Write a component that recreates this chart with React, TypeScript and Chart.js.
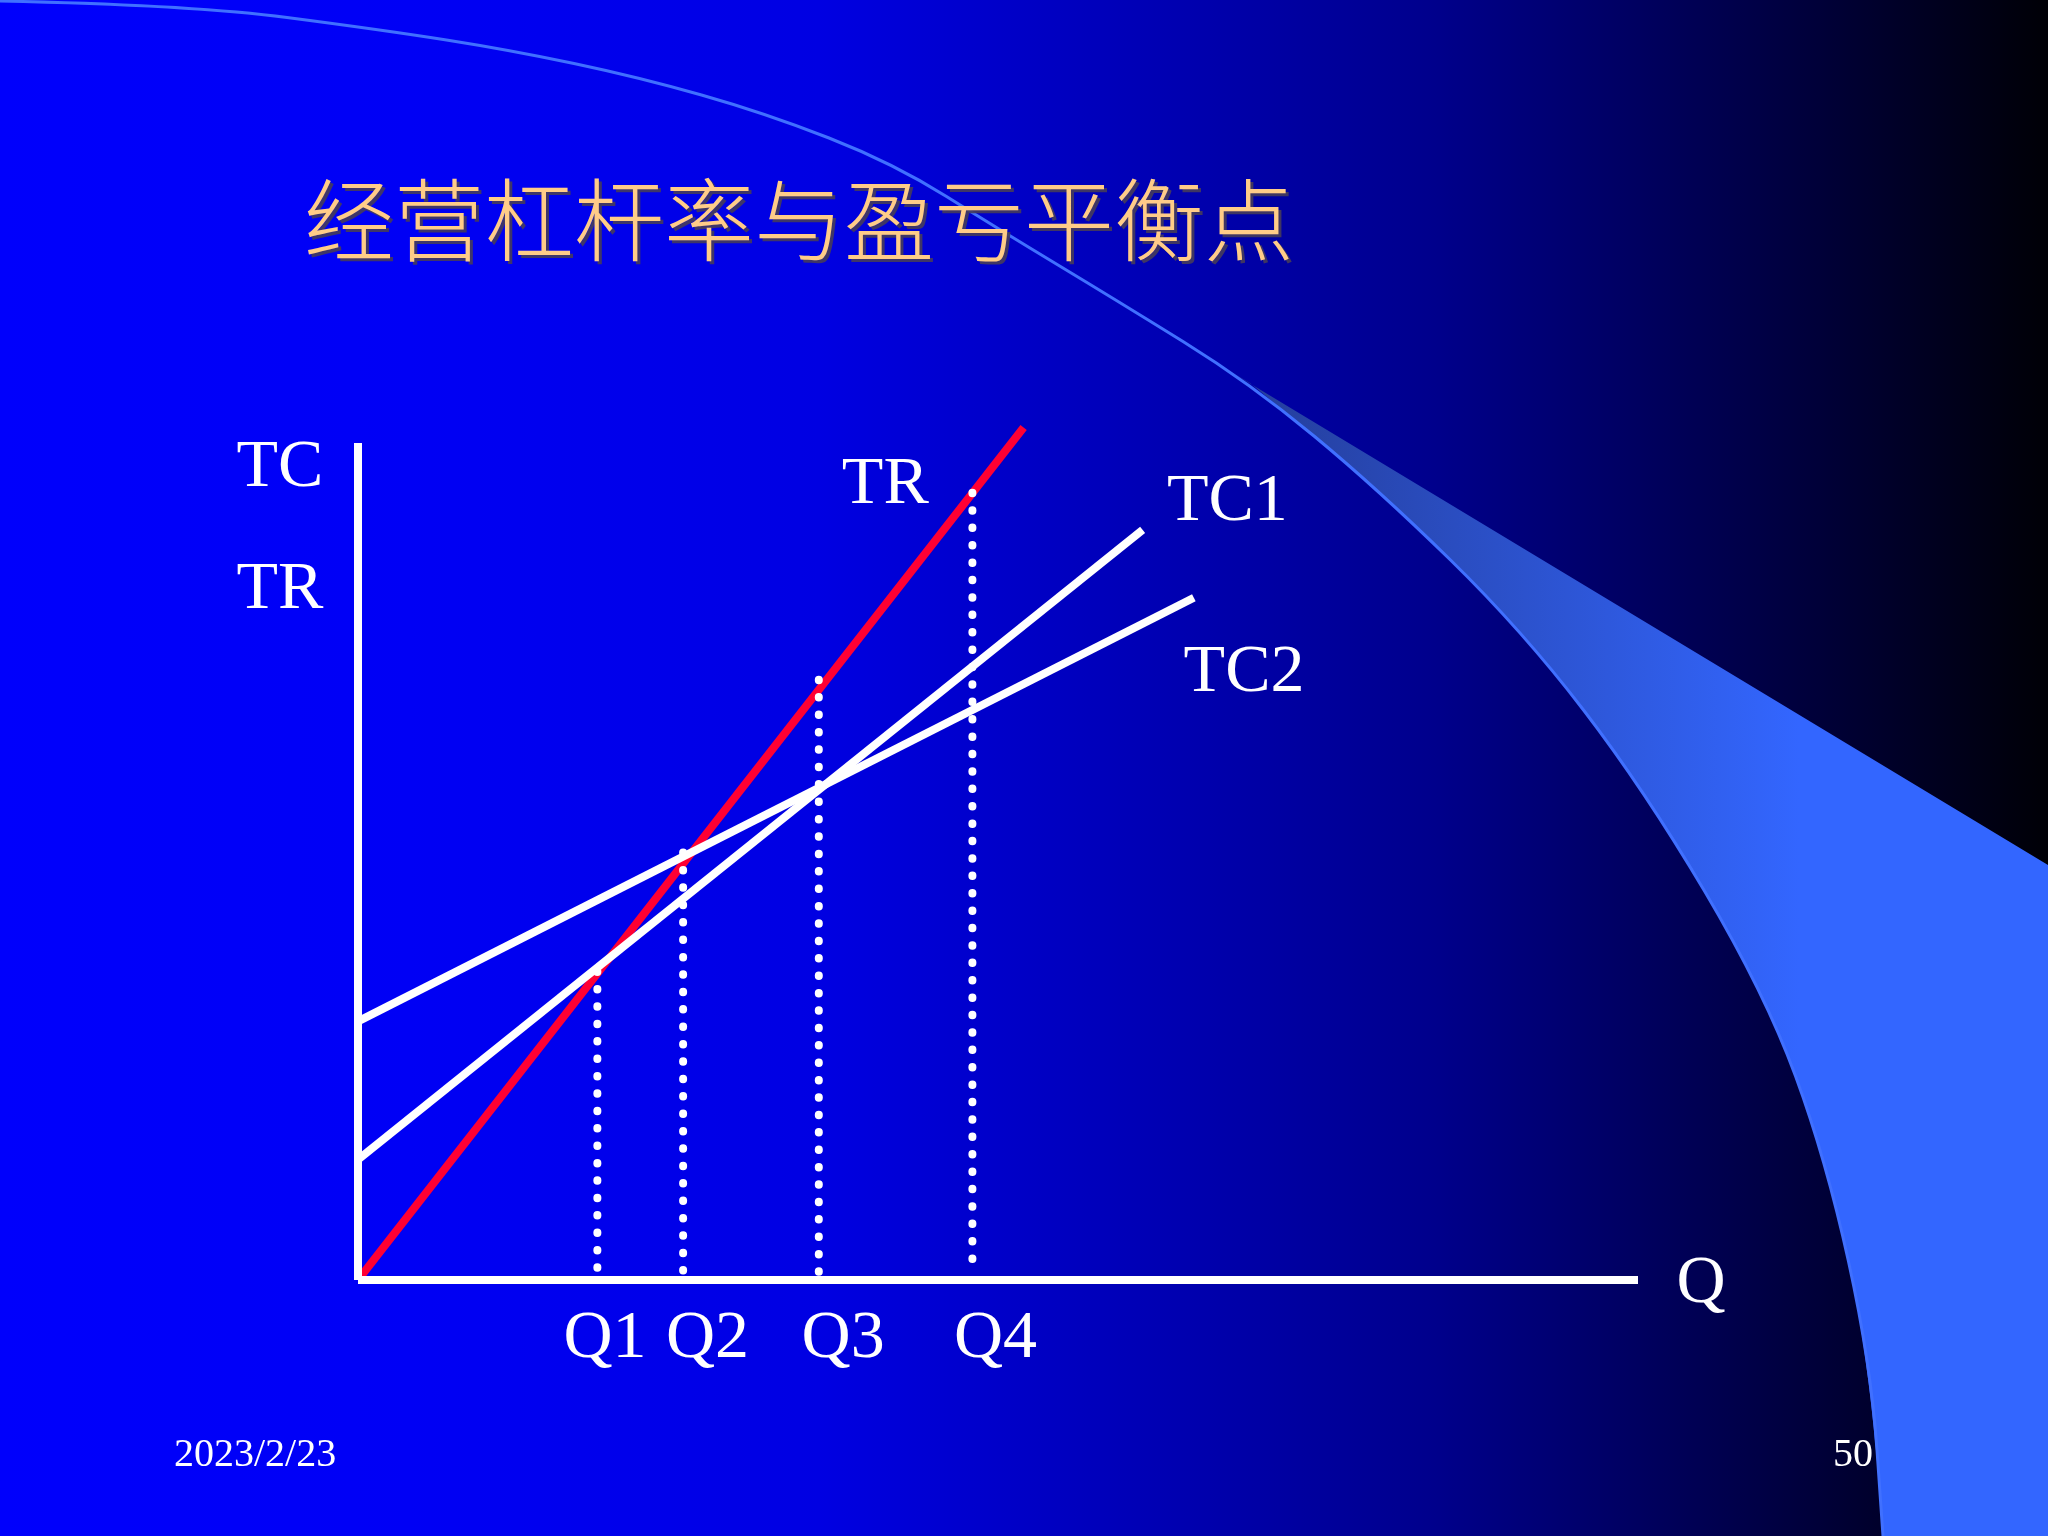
import React, { useEffect, useRef } from "react";
import { Chart, registerables } from "chart.js";

Chart.register(...registerables);

// ---- data (chart units) ----
const titleText = "经营杠杆率与盈亏平衡点";
const footerDate = "2023/2/23";
const pageNumber = "50";

const trX = [0, 52.0];
const trY = [0, 66.6];
const tc1X = [0, 61.3];
const tc1Y = [9.4, 58.6];
const tc2X = [0, 65.3];
const tc2Y = [20.2, 53.3];

const axisXEnd = 100;
const axisYEnd = 65.4;

const quantityLabels = ["Q1", "Q2", "Q3", "Q4"];
const quantityValues = [18.7, 25.4, 36.0, 48.0];
const quantityTops = [24.1, 33.4, 46.9, 61.5];
const dottedBottom = 0.4;

// label anchors in chart units
const quantityLabelX = [19.3, 27.3, 37.9, 49.8];
const quantityLabelY = -6.0;
const curveLabels = ["TR", "TC1", "TC2"];
const curveLabelX = [37.8, 63.2, 64.5];
const curveLabelY = [60.7, 59.4, 46.0];
const axisLabels = ["TC", "TR", "Q"];
const axisLabelX = [-9.5, -9.5, 103.0];
const axisLabelY = [62.0, 52.5, -1.7];

const W = 2048;
const H = 1536;

const pts = (xs: number[], ys: number[]) => xs.map((x, i) => ({ x, y: ys[i] }));

const ARC: [number, number][] = [
  [0, 1], [191, 5], [383, 30], [510, 50], [638, 77], [765, 113],
  [893, 163], [1000, 230], [1116, 300], [1250, 383], [1378, 489], [1523, 631], [1644, 789],
  [1765, 993], [1826, 1159], [1871, 1364], [1883, 1536],
];

function smooth(ctx: CanvasRenderingContext2D, p: [number, number][], move: boolean) {
  if (move) ctx.moveTo(p[0][0], p[0][1]);
  else ctx.lineTo(p[0][0], p[0][1]);
  for (let i = 1; i < p.length - 1; i++) {
    const mx = (p[i][0] + p[i + 1][0]) / 2;
    const my = (p[i][1] + p[i + 1][1]) / 2;
    ctx.quadraticCurveTo(p[i][0], p[i][1], mx, my);
  }
  const l = p[p.length - 1];
  ctx.lineTo(l[0], l[1]);
}

const backgroundPlugin = {
  id: "slideBackground",
  beforeDraw(chart: any) {
    const ctx: CanvasRenderingContext2D = chart.ctx;
    ctx.save();
    const g = ctx.createLinearGradient(0, 0, W, 0);
    g.addColorStop(0, "rgb(0,0,252)");
    g.addColorStop(0.2, "rgb(0,0,245)");
    g.addColorStop(0.4, "rgb(0,0,226)");
    g.addColorStop(0.57, "rgb(0,0,178)");
    g.addColorStop(0.7, "rgb(0,0,140)");
    g.addColorStop(0.8, "rgb(0,0,96)");
    g.addColorStop(0.89, "rgb(0,0,56)");
    g.addColorStop(1, "rgb(0,0,6)");
    ctx.fillStyle = g;
    ctx.fillRect(0, 0, W, H);

    // light ribbon
    const lower = ARC.slice(9).slice().reverse() as [number, number][];
    ctx.beginPath();
    ctx.moveTo(1221, 366);
    ctx.lineTo(W, 865);
    ctx.lineTo(W, H);
    smooth(ctx, lower, false);
    ctx.lineTo(1221, 366);
    ctx.closePath();
    const rg = ctx.createLinearGradient(1221, 0, 1800, 0);
    rg.addColorStop(0, "rgb(36,60,150)");
    rg.addColorStop(1, "#3366FF");
    ctx.fillStyle = rg;
    ctx.fill();

    // thin arc line
    ctx.beginPath();
    smooth(ctx, ARC, true);
    ctx.strokeStyle = "#4070FF";
    ctx.lineWidth = 3;
    ctx.stroke();
    ctx.restore();
  },
};

const textPlugin = {
  id: "slideText",
  afterDraw(chart: any) {
    const ctx: CanvasRenderingContext2D = chart.ctx;
    const xs = chart.scales.x;
    const ys = chart.scales.y;
    ctx.save();
    // title
    ctx.font = '300 90px "Noto Sans CJK SC"';
    ctx.textBaseline = "middle";
    ctx.textAlign = "left";
    ctx.shadowColor = "rgba(70,60,90,0.9)";
    ctx.shadowOffsetX = 3;
    ctx.shadowOffsetY = 3;
    ctx.fillStyle = "#FFCC88";
    ctx.fillText(titleText, 304, 220);
    ctx.shadowColor = "transparent";
    ctx.shadowOffsetX = 0;
    ctx.shadowOffsetY = 0;

    ctx.fillStyle = "#FFFFFF";
    ctx.textBaseline = "alphabetic";
    ctx.font = '68px "Liberation Serif", "Times New Roman", serif';
    ctx.textAlign = "center";
    quantityLabels.forEach((t, i) => {
      ctx.fillText(t, xs.getPixelForValue(quantityLabelX[i]), ys.getPixelForValue(quantityLabelY));
    });
    ctx.textAlign = "left";
    curveLabels.forEach((t, i) => {
      ctx.fillText(t, xs.getPixelForValue(curveLabelX[i]), ys.getPixelForValue(curveLabelY[i]));
    });
    axisLabels.forEach((t, i) => {
      ctx.fillText(t, xs.getPixelForValue(axisLabelX[i]), ys.getPixelForValue(axisLabelY[i]));
    });

    ctx.font = '40px "Liberation Serif", "Times New Roman", serif';
    ctx.fillText(footerDate, 174, 1466);
    ctx.fillText(pageNumber, 1833, 1466);
    ctx.restore();
  },
};

export default function App() {
  const ref = useRef<HTMLCanvasElement | null>(null);
  useEffect(() => {
    if (!ref.current) return;
    const white = "#FFFFFF";
    const dotted = quantityValues.map((q, i) => ({
      label: quantityLabels[i],
      data: [{ x: q, y: quantityTops[i] }, { x: q, y: dottedBottom }],
      borderColor: white,
      borderWidth: 8,
      borderDash: [0.5, 16.9],
      borderCapStyle: "round" as const,
      pointRadius: 0,
      clip: false as any,
      order: 0,
    }));
    const solid = (label: string, data: any[], color: string, order: number) => ({
      label,
      data,
      borderColor: color,
      borderWidth: 8,
      borderCapStyle: "butt" as const,
      pointRadius: 0,
      clip: false as any,
      order,
    });
    const chart = new Chart(ref.current, {
      type: "line",
      data: {
        datasets: [
          ...dotted,
          solid("TC2", pts(tc2X, tc2Y), white, 1),
          solid("TC1", pts(tc1X, tc1Y), white, 1),
          solid("TR", pts(trX, trY), "#FF0033", 2),
          solid("Q axis", [{ x: 0, y: 0 }, { x: axisXEnd, y: 0 }], white, 1),
          solid("TC/TR axis", [{ x: 0, y: 0 }, { x: 0, y: axisYEnd }], white, 1),
        ],
      },
      options: {
        animation: false,
        responsive: false,
        devicePixelRatio: 1,
        layout: { padding: { left: 358, right: 410, top: 384, bottom: 256 } },
        scales: {
          x: { type: "linear", min: 0, max: 100, display: false },
          y: { type: "linear", min: 0, max: 70, display: false },
        },
        plugins: { legend: { display: false }, tooltip: { enabled: false }, title: { display: false } },
        elements: { line: { tension: 0 } },
      },
      plugins: [backgroundPlugin, textPlugin],
    });
    return () => chart.destroy();
  }, []);
  return (
    <div style={{ position: "absolute", left: 0, top: 0, width: W, height: H }}>
      <canvas ref={ref} width={W} height={H} style={{ width: W, height: H, display: "block" }} />
    </div>
  );
}
